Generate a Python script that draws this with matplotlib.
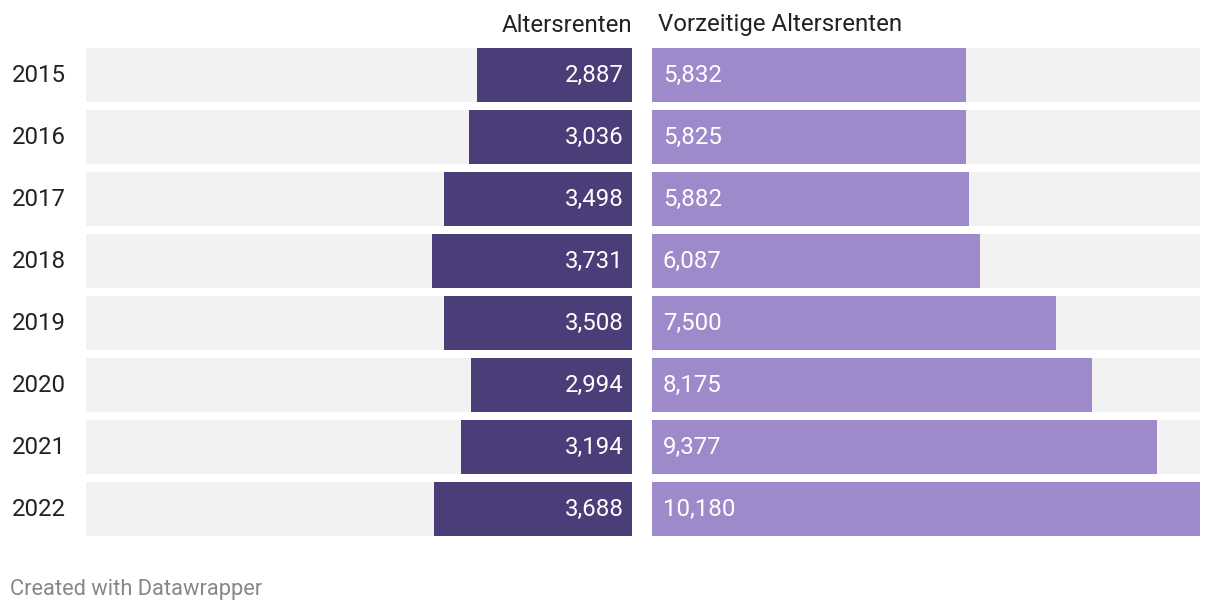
import matplotlib.pyplot as plt

plt.rcParams['font.family'] = ['Roboto', 'DejaVu Sans']

years = ["2015", "2016", "2017", "2018", "2019", "2020", "2021", "2022"]
altersrenten = [2887, 3036, 3498, 3731, 3508, 2994, 3194, 3688]
vorzeitige = [5832, 5825, 5882, 6087, 7500, 8175, 9377, 10180]
xmax = 10180

W, H = 1220, 612
fig = plt.figure(figsize=(W / 100, H / 100), dpi=100)

dark = "#4b3d78"
light = "#9e8acb"
bg = "#f2f2f2"
fs = 17.3

# panel geometry in pixels
top, bottom = 48, 535.5
pitch = 62.0
bh = (bottom - top - 7 * pitch)  # bar height in px
ext = bh / pitch / 2


def px_axes(x0, x1):
    return fig.add_axes([x0 / W, 1 - bottom / H, (x1 - x0) / W, (bottom - top) / H])


axl = px_axes(86, 632)
axr = px_axes(652, 1200)
ypos = list(range(len(years)))

for ax in (axl, axr):
    ax.barh(ypos, [xmax] * len(years), height=2 * ext, color=bg, zorder=1)
    ax.set_ylim(len(years) - 1 + ext, -ext)
    ax.set_xlim(0, xmax)
    ax.axis("off")

axl.set_xlim(xmax, 0)
axl.barh(ypos, altersrenten, height=2 * ext, color=dark, zorder=2)
axr.barh(ypos, vorzeitige, height=2 * ext, color=light, zorder=2)

for i, (a, v) in enumerate(zip(altersrenten, vorzeitige)):
    axl.annotate(f"{a:,}", (0, i), xytext=(-8, -1), textcoords="offset pixels",
                 ha="right", va="center", color="white", fontsize=fs)
    axr.annotate(f"{v:,}", (0, i), xytext=(11, -1), textcoords="offset pixels",
                 ha="left", va="center", color="white", fontsize=fs)
    fig.text(12 / W, 1 - (top + bh / 2 + i * pitch + 1) / H, years[i],
             ha="left", va="center", fontsize=fs, color="#222222")

fig.text(632 / W, 1 - 25 / H, "Altersrenten", ha="right", va="center",
         fontsize=fs, color="#222222")
fig.text(658 / W, 1 - 25 / H, "Vorzeitige Altersrenten", ha="left", va="center",
         fontsize=fs, color="#222222")
fig.text(10 / W, 1 - 589 / H, "Created with Datawrapper", ha="left", va="center",
         fontsize=15.75, color="#888888")

fig.savefig("out.png", dpi=100)
